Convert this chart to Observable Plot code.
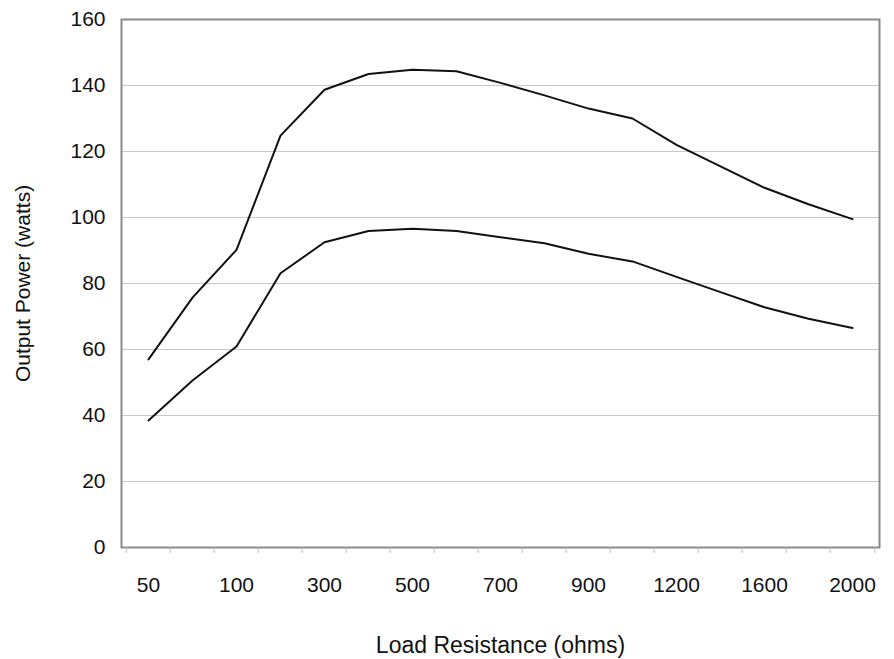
<!DOCTYPE html>
<html><head><meta charset="utf-8">
<script src="https://cdn.jsdelivr.net/npm/d3@7"></script>
<script src="https://cdn.jsdelivr.net/npm/@observablehq/plot@0.6"></script>
<style>body{margin:0;background:#fff}#chart svg{display:block}</style>
</head><body><div id="chart"></div>
<script>
const resistance = ["50","75","100","200","300","400","500","600","700","800","900","1000","1200","1400","1600","1800","2000"];
const upperWatts = [57, 75.7, 90.2, 124.8, 138.7, 143.5, 144.8, 144.3, 140.8, 137, 133, 130, 122, 115.5, 109, 104, 99.5];
const lowerWatts = [38.5, 50.6, 60.9, 83.1, 92.5, 95.9, 96.6, 95.9, 94, 92.2, 89, 86.7, 82, 77.4, 72.8, 69.3, 66.5];
const labeledTicks = ["50","100","300","500","700","900","1200","1600","2000"];
const yTicks = [0, 20, 40, 60, 80, 100, 120, 140, 160];

const W = 894, H = 659, ML = 121, MR = 15, MT = 19, MB = 112;
const step = (W - ML - MR) / resistance.length;

const upper = resistance.map((r, i) => ({r, w: upperWatts[i]}));
const lower = resistance.map((r, i) => ({r, w: lowerWatts[i]}));

const chart = Plot.plot({
  width: W, height: H,
  marginLeft: ML, marginRight: MR, marginTop: MT, marginBottom: MB,
  style: {fontFamily: "'Liberation Sans', Arial, sans-serif", fontSize: "21px", color: "#111", background: "#fff"},
  x: {type: "point", domain: resistance, padding: 0.5},
  y: {domain: [0, 160]},
  marks: [
    Plot.gridY(yTicks, {stroke: "#c8c8c8", strokeOpacity: 1, strokeWidth: 1.2}),
    Plot.frame({stroke: "#8a8a8a", strokeWidth: 2}),
    Plot.axisY({ticks: yTicks, tickSize: 0, tickPadding: 16, fontSize: 21,
      label: "Output Power (watts)", labelAnchor: "center", labelArrow: "none", labelOffset: 106}),
    Plot.axisX({ticks: resistance, tickFormat: null, tickSize: 6, stroke: "#bbb", dx: -step / 2, label: null}),
    Plot.axisX({ticks: ["2000"], tickFormat: null, tickSize: 6, stroke: "#bbb", dx: step / 2, label: null}),
    Plot.axisX({ticks: labeledTicks, tickSize: 0, tickPadding: 30, fontSize: 21,
      label: "Load Resistance (ohms)", labelAnchor: "center", labelArrow: "none", labelOffset: 105}),
    Plot.line(upper, {x: "r", y: "w", stroke: "#111", strokeWidth: 2}),
    Plot.line(lower, {x: "r", y: "w", stroke: "#111", strokeWidth: 2})
  ]
});
chart.querySelectorAll("g[aria-label='x-axis label'], g[aria-label='x-axis label'] text").forEach(el => el.setAttribute("font-size", "23"));
document.getElementById("chart").appendChild(chart);
</script>
</body></html>
